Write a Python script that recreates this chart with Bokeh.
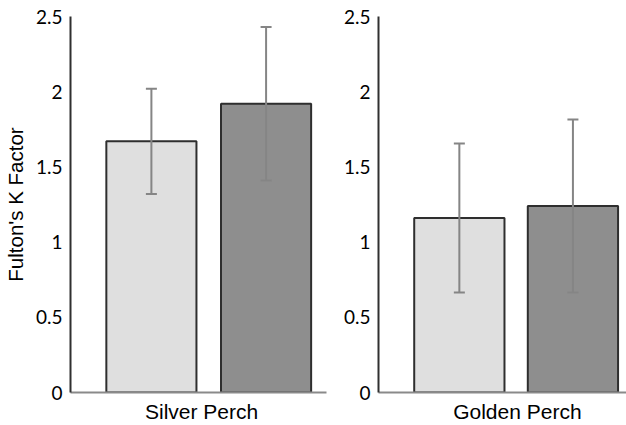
from bokeh.plotting import figure
from bokeh.layouts import row
from bokeh.models import ColumnDataSource, Range1d, FixedTicker
from bokeh.embed import file_html
from bokeh.resources import INLINE

# ---- data ----
species = ["Silver Perch", "Golden Perch"]
groups = ["Group A", "Group B"]
silver_means = [1.67, 1.92]
silver_errs = [0.35, 0.51]
golden_means = [1.16, 1.24]
golden_errs = [0.495, 0.575]
y_ticks = [0, 0.5, 1, 1.5, 2, 2.5]
y_tick_labels = ["0", "0.5", "1", "1.5", "2", "2.5"]
y_label = "Fulton's K Factor"

# ---- style / layout ----
FILLS = ["#dfdfdf", "#8e8e8e"]
OUTLINE = "#2e2e2e"
ERR_COLOR = "#858585"
TICK_FONT = "Lato"
LABEL_FONT = "Liberation Sans"

# per panel: bar centres (fraction of frame), bar width, label centre, borders
PANEL_LAYOUT = [
    dict(centres=[0.316, 0.764], width=0.352, label_x=0.512,
         fig_width=340, border_left=70, border_right=14),
    dict(centres=[0.326, 0.784], width=0.364, label_x=0.560,
         fig_width=286, border_left=36, border_right=0),
]


def make_panel(idx, means, errs, show_ylabel):
    lay = PANEL_LAYOUT[idx]
    p = figure(width=lay["fig_width"], height=425, output_backend="svg",
               toolbar_location=None, x_range=Range1d(0, 1),
               y_range=Range1d(0, 2.5),
               min_border_left=lay["border_left"],
               min_border_right=lay["border_right"],
               min_border_top=16, min_border_bottom=32)
    p.outline_line_color = None
    p.grid.visible = False
    p.background_fill_color = "white"
    p.border_fill_color = "white"

    lower = [m - e for m, e in zip(means, errs)]
    upper = [m + e for m, e in zip(means, errs)]
    src = ColumnDataSource(dict(x=lay["centres"], top=means, lower=lower,
                                upper=upper, group=groups, color=FILLS))
    p.vbar(x="x", top="top", bottom=0, width=lay["width"], source=src,
           fill_color="color", line_color=OUTLINE, line_width=2)

    # error bars drawn on top of the bars
    p.segment(x0="x", y0="lower", x1="x", y1="upper", source=src,
              line_color=ERR_COLOR, line_width=2)
    p.scatter(x="x", y="upper", source=src, marker="dash", size=11,
              line_color=ERR_COLOR, line_width=2)
    p.scatter(x="x", y="lower", source=src, marker="dash", size=11,
              line_color=ERR_COLOR, line_width=2)

    # y axis
    ya = p.yaxis[0]
    ya.ticker = FixedTicker(ticks=y_ticks)
    ya.major_label_overrides = {t: l for t, l in zip(y_ticks, y_tick_labels)}
    ya.major_tick_out = 0
    ya.major_tick_in = 0
    ya.minor_tick_out = 0
    ya.minor_tick_in = 0
    ya.axis_line_color = "#303030"
    ya.axis_line_width = 2
    ya.major_label_text_font = TICK_FONT
    ya.major_label_text_font_size = "19px"
    ya.major_label_text_color = "black"
    ya.major_label_standoff = 8
    if show_ylabel:
        ya.axis_label = y_label
        ya.axis_label_text_font = LABEL_FONT
        ya.axis_label_text_font_size = "20.5px"
        ya.axis_label_text_font_style = "normal"
        ya.axis_label_text_color = "black"
        ya.axis_label_standoff = 6

    # x axis
    xa = p.xaxis[0]
    xa.ticker = FixedTicker(ticks=[lay["label_x"]])
    xa.major_label_overrides = {lay["label_x"]: species[idx]}
    xa.major_tick_out = 0
    xa.major_tick_in = 0
    xa.minor_tick_out = 0
    xa.minor_tick_in = 0
    xa.axis_line_color = "#8a8a8a"
    xa.axis_line_width = 2
    xa.major_label_text_font = LABEL_FONT
    xa.major_label_text_font_size = "21px"
    xa.major_label_text_color = "black"
    xa.major_label_standoff = 7
    return p


p1 = make_panel(0, silver_means, silver_errs, True)
p2 = make_panel(1, golden_means, golden_errs, False)
layout = row(p1, p2)

open("out.html", "w").write(file_html(layout, INLINE))
